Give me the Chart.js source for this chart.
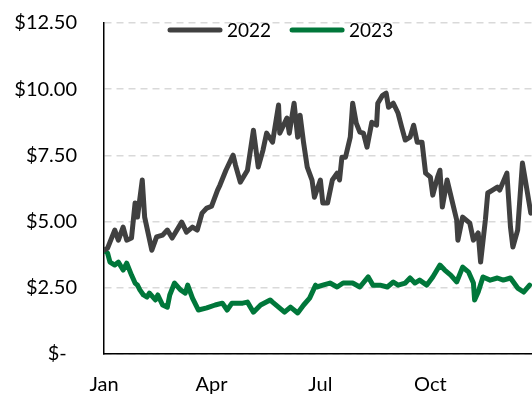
<!DOCTYPE html>
<html>
<head>
<meta charset="utf-8">
<script src="https://cdn.jsdelivr.net/npm/chart.js@4"></script>
<style>
  html, body { margin: 0; padding: 0; background: #fff; }
  #wrap { width: 532px; height: 394px; overflow: hidden; position: relative; }
</style>
</head>
<body>
<div id="wrap"><canvas id="chart" width="532" height="416"></canvas></div>
<script>
// day of year (0 = Jan 1) and price for each year
const days2022 = [0, 3, 9, 12, 16, 19, 23, 26, 28, 32, 34, 40, 44, 49, 53, 57, 65, 69, 74, 78,
  82, 86, 90, 95, 97, 102, 108, 110, 114, 120, 125, 129, 133, 136, 141, 146, 147, 153, 155, 159,
  162, 164, 167, 170, 174, 176, 181, 183, 187, 191, 195, 197, 199, 202, 206, 208, 211, 214, 217, 220,
  224, 228, 229, 233, 236, 238, 242, 246, 249, 252, 256, 259, 262, 266, 269, 273, 275, 279, 281, 283,
  287, 291, 295, 296, 300, 306, 309, 313, 315, 319, 321, 325, 329, 331, 337, 340, 342, 346, 350, 352, 357];
const values2022 = [3.92, 4.0, 4.68, 4.3, 4.79, 4.3, 4.38, 5.7, 5.17, 6.57, 5.17, 3.92, 4.42, 4.49, 4.68, 4.38, 4.98, 4.6, 4.79, 4.68,
  5.32, 5.51, 5.58, 6.19, 6.38, 6.94, 7.51, 7.13, 6.49, 6.94, 8.45, 7.06, 7.7, 8.34, 8.0, 9.4, 8.34, 8.91, 8.34, 9.47,
  8.19, 9.02, 7.96, 7.06, 6.57, 5.92, 6.57, 5.7, 5.7, 6.57, 6.83, 6.57, 7.43, 7.43, 8.19, 9.47, 8.72, 8.38, 8.34, 7.81,
  8.75, 8.64, 9.47, 9.77, 9.85, 9.32, 9.47, 9.09, 8.57, 8.08, 8.19, 8.64, 8.0, 8.0, 6.83, 6.68, 6.0, 6.68, 6.94, 5.55,
  6.57, 5.81, 5.06, 4.3, 5.17, 4.94, 4.3, 4.57, 3.47, 5.06, 6.08, 6.19, 6.3, 6.19, 6.83, 4.79, 4.04, 4.68, 7.21, 6.68, 5.32];

const days2023 = [0, 3, 5, 9, 12, 16, 19, 23, 26, 28, 30, 33, 36, 38, 43, 45, 49, 53, 55, 59,
  64, 68, 70, 74, 79, 86, 93, 99, 103, 107, 116, 120, 125, 131, 139, 141, 146, 151, 156, 162,
  167, 172, 177, 178, 183, 189, 195, 200, 208, 214, 221, 225, 231, 237, 242, 246, 252, 256, 260, 264,
  270, 275, 281, 285, 290, 295, 300, 305, 309, 310, 313, 317, 323, 329, 334, 340, 346, 351, 356];
const values2023 = [3.92, 3.81, 3.47, 3.36, 3.47, 3.17, 3.43, 2.98, 2.68, 2.6, 2.42, 2.23, 2.15, 2.3, 2.04, 2.23, 1.85, 1.77, 2.23, 2.68,
  2.42, 2.3, 2.6, 2.11, 1.66, 1.74, 1.85, 1.92, 1.66, 1.92, 1.92, 1.96, 1.58, 1.85, 2.04, 1.96, 1.77, 1.58, 1.77, 1.55,
  1.85, 2.11, 2.6, 2.53, 2.6, 2.68, 2.53, 2.68, 2.68, 2.53, 2.91, 2.6, 2.6, 2.53, 2.72, 2.6, 2.68, 2.87, 2.68, 2.79,
  2.6, 2.91, 3.36, 3.17, 2.98, 2.72, 3.28, 3.09, 2.68, 2.04, 2.34, 2.91, 2.79, 2.87, 2.79, 2.87, 2.49, 2.34, 2.6];

const monthTicks = [0, 90, 181, 273];
const monthLabels = ['Jan', 'Apr', 'Jul', 'Oct'];
const seriesLabels = ['2022', '2023'];
const seriesColors = ['#404040', '#00773A'];

const toPoints = (xs, ys) => xs.map((x, i) => ({ x: x, y: ys[i] }));

const FONT = 'Lato, "Liberation Sans", sans-serif';

// legend drawn over the top of the plot, Excel style
const lineLegend = {
  id: 'lineLegend',
  afterDraw(chart) {
    const ctx = chart.ctx;
    let x = 170;
    const y = 30;
    ctx.save();
    ctx.font = '19px ' + FONT;
    ctx.textBaseline = 'middle';
    chart.data.datasets.forEach(ds => {
      ctx.strokeStyle = ds.borderColor;
      ctx.lineWidth = 5;
      ctx.lineCap = 'round';
      ctx.beginPath();
      ctx.moveTo(x, y);
      ctx.lineTo(x + 50, y);
      ctx.stroke();
      ctx.fillStyle = '#000';
      ctx.fillText(ds.label, x + 57, y + 1);
      x += 57 + ctx.measureText(ds.label).width + 21;
    });
    ctx.restore();
  }
};

new Chart(document.getElementById('chart'), {
  type: 'line',
  data: {
    datasets: [
      {
        label: seriesLabels[0],
        data: toPoints(days2022, values2022),
        borderColor: seriesColors[0],
        borderWidth: 5,
        pointRadius: 0,
        borderJoinStyle: 'round',
        borderCapStyle: 'round',
        tension: 0
      },
      {
        label: seriesLabels[1],
        data: toPoints(days2023, values2023),
        borderColor: seriesColors[1],
        borderWidth: 5,
        pointRadius: 0,
        borderJoinStyle: 'round',
        borderCapStyle: 'round',
        tension: 0
      }
    ]
  },
  options: {
    responsive: false,
    animation: false,
    devicePixelRatio: 1,
    layout: { padding: { top: 23, right: 0, left: 0, bottom: 0 } },
    plugins: {
      legend: { display: false },
      tooltip: { enabled: false }
    },
    scales: {
      x: {
        type: 'linear',
        min: 0,
        max: 358,
        afterBuildTicks: scale => { scale.ticks = monthTicks.map(v => ({ value: v })); },
        afterFit: scale => { scale.paddingLeft = 0; scale.paddingRight = 0; },
        ticks: {
          autoSkip: false,
          maxRotation: 0,
          padding: 19,
          color: '#000',
          font: { family: FONT, size: 20 },
          callback: v => monthLabels[monthTicks.indexOf(v)]
        },
        grid: { display: false, drawTicks: false },
        border: { display: true, color: '#000', width: 1.5 }
      },
      y: {
        min: 0,
        max: 12.5,
        afterFit: scale => {
          scale.width = 104;
          scale.paddingTop = 0;
          scale.paddingBottom = 0;
        },
        ticks: {
          stepSize: 2.5,
          padding: 27,
          color: '#000',
          font: { family: FONT, size: 20 },
          callback: v => v === 0 ? '$-  ' : '$' + v.toFixed(2)
        },
        grid: { color: '#d9d9d9', lineWidth: 1.5, drawTicks: false },
        border: { display: true, color: '#000', width: 1.5, dash: [7, 5] }
      }
    }
  },
  plugins: [lineLegend]
});
</script>
</body>
</html>
